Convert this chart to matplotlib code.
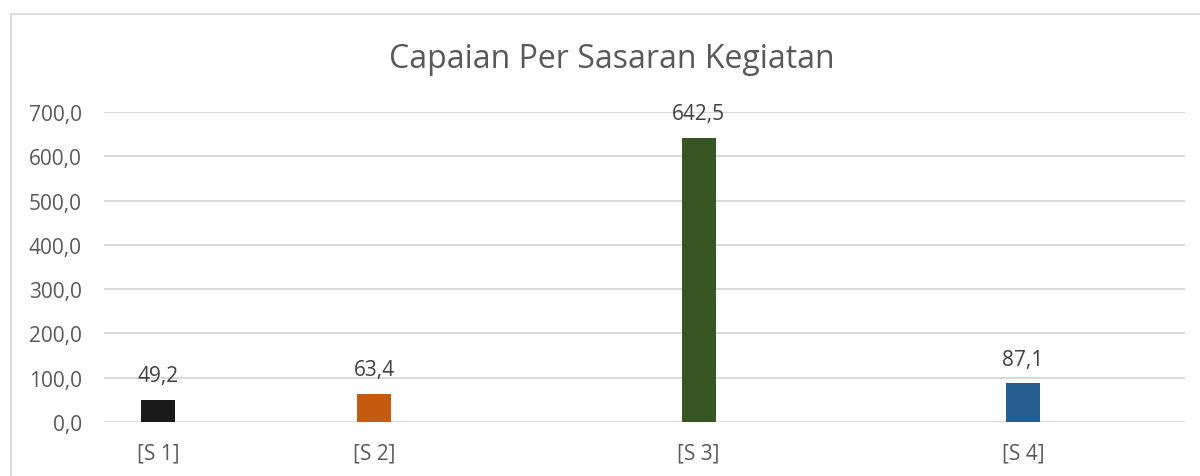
import matplotlib
matplotlib.use("Agg")
import matplotlib.pyplot as plt
from matplotlib.lines import Line2D

# Chart data
categories = ["[S 1]", "[S 2]", "[S 3]", "[S 4]"]
values = [49.2, 63.4, 642.5, 87.1]
bar_colors = ["#1a1a1a", "#c55a11", "#375623", "#255e91"]
y_ticks = [0, 100, 200, 300, 400, 500, 600, 700]

# Layout: horizontal slot of each bar within a 0..10 axis
positions = [0.5, 2.5, 5.5, 8.5]

plt.rcParams["font.family"] = ["Open Sans", "DejaVu Sans"]

fig = plt.figure(figsize=(12, 4.77), dpi=100)
ax = fig.add_axes([0.0867, 0.1132, 0.9008, 0.6498])

ax.bar(positions, values, width=0.315, color=bar_colors, zorder=3)

def fmt(v):
    return f"{v:.1f}".replace(".", ",")

for x, v in zip(positions, values):
    ax.annotate(fmt(v), (x, v), xytext=(0, 10), textcoords="offset points",
                ha="center", va="bottom", fontsize=15, color="#404040")

ax.set_xlim(0, 10)
ax.set_ylim(0, 700)
ax.set_yticks(y_ticks)
ax.set_yticklabels([fmt(t) for t in y_ticks])
ax.set_xticks(positions)
ax.set_xticklabels(categories)
ax.tick_params(axis="both", length=0, labelsize=15, labelcolor="#595959")
ax.tick_params(axis="y", pad=16)
ax.tick_params(axis="x", pad=15)
ax.grid(axis="y", color="#d9d9d9", linewidth=1.4, zorder=0)
for s in ax.spines.values():
    s.set_visible(False)

fig.text(0.51, 0.875, "Capaian Per Sasaran Kegiatan", ha="center", va="center",
         fontsize=23, color="#595959")

# Chart area border
fx = 10.5 / 1200
fy = 1 - 15 / 477
fig.add_artist(Line2D([fx, fx], [0, fy], transform=fig.transFigure,
                      color="#d9d9d9", linewidth=1.3))
fig.add_artist(Line2D([fx, 1], [fy, fy], transform=fig.transFigure,
                      color="#d9d9d9", linewidth=1.3))

fig.savefig("out.png", dpi=100, facecolor="white")
